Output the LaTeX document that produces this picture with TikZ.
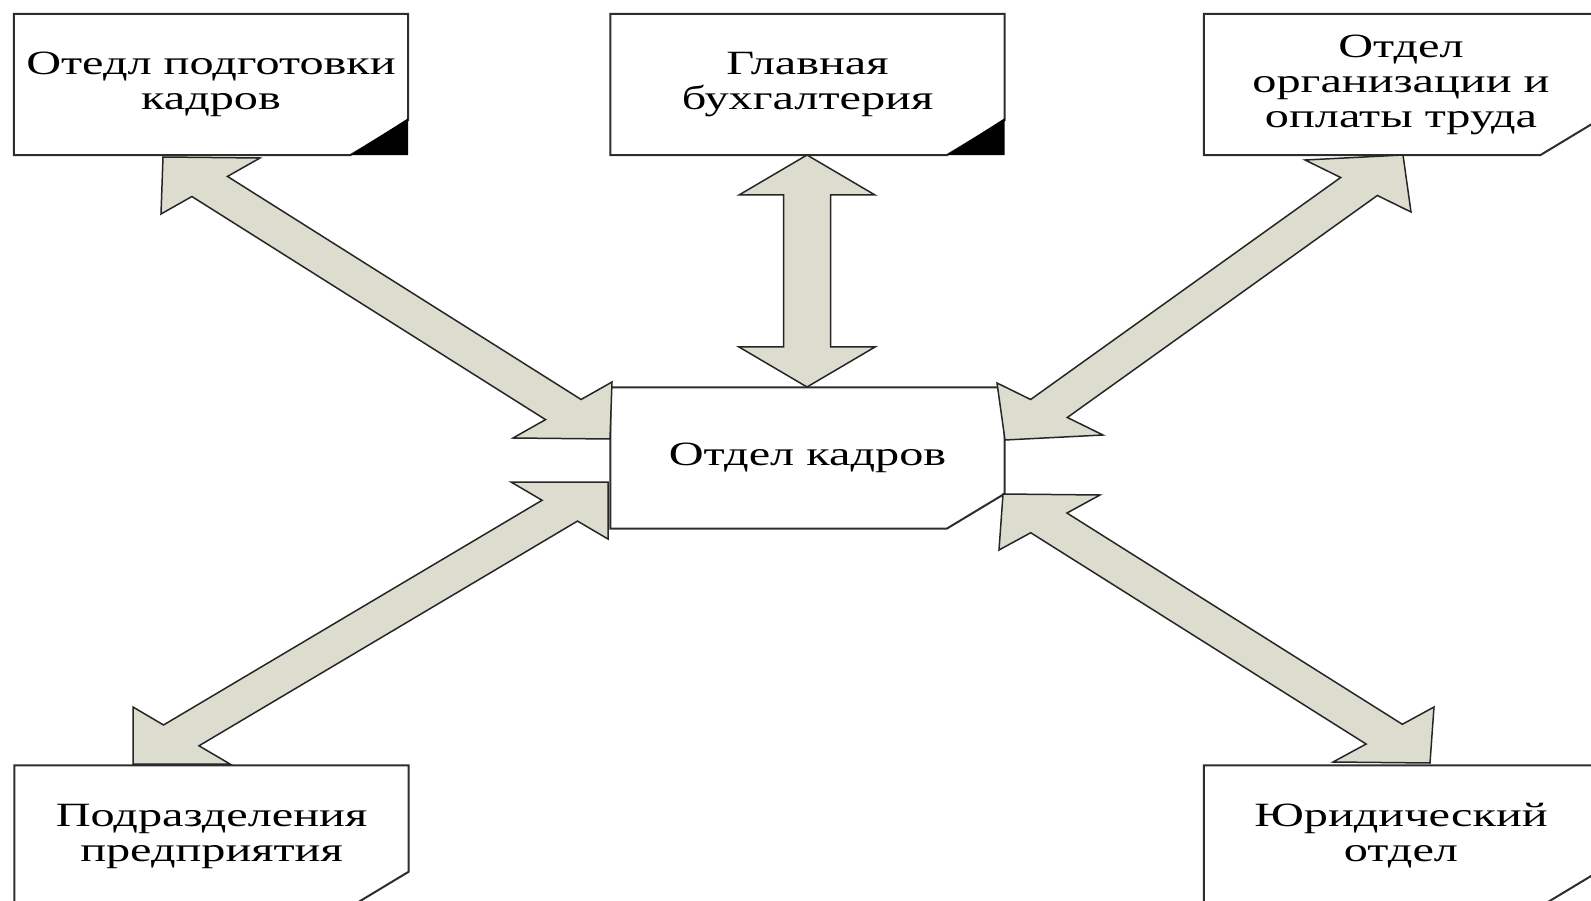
\documentclass[tikz,border=0pt]{standalone}
\usepackage{fontspec}
\newfontfamily\cardfont{Liberation Serif}[FakeStretch=1.42]
\usetikzlibrary{calc}

\definecolor{arrowgray}{RGB}{220,221,206}
\definecolor{cardline}{RGB}{45,45,45}

\tikzset{
  card/.style={minimum width=394pt, minimum height=141pt, inner sep=0pt, align=center,
    font=\cardfont\fontsize{34pt}{35pt}\selectfont},
  cardedge/.style={draw=cardline, line width=2pt, line join=miter},
  fatarrow/.style={fill=arrowgray, draw=black!85, line width=1.5pt, line join=miter},
}

% fat double arrow between two tips;
% #4 = barb of the first tip on the left side, #5 = its other barb
\newcommand{\fatlink}[5][18pt]{%
  \coordinate (#2b1) at ($(#2)+#4$);
  \coordinate (#2b2) at ($(#2)+#5$);
  \coordinate (#3b1) at ($(#3)-#4$);
  \coordinate (#3b2) at ($(#3)-#5$);
  \coordinate (#2l) at ($(#2)!#1!90:(#3)$);
  \coordinate (#3l) at ($(#3)!#1!-90:(#2)$);
  \coordinate (#2r) at ($(#2)!#1!-90:(#3)$);
  \coordinate (#3r) at ($(#3)!#1!90:(#2)$);
  \draw[fatarrow] (#2) -- (#2b1)
    -- (intersection of #2b1--#2b2 and #2l--#3l)
    -- (intersection of #3b1--#3b2 and #2l--#3l)
    -- (#3b2) -- (#3) -- (#3b1)
    -- (intersection of #3b1--#3b2 and #2r--#3r)
    -- (intersection of #2b1--#2b2 and #2r--#3r)
    -- (#2b2) -- cycle;
}

\begin{document}
\begin{tikzpicture}[x=1pt, y=-1pt]

  \useasboundingbox (0,0) rectangle (1591,901);
  \clip (0,0) rectangle (1591,901);

  \node[card] (k0) at (807.5,458) {Отдел кадров};

  \node[card] (k1) at (211,84.5) {Отедл подготовки\\кадров};
  \node[card] (k2) at (807.5,84.5) {Главная\\бухгалтерия};
  \node[card] (k3) at (1401,84.5) {Отдел\\организации и\\оплаты труда};

  \node[card] (k4) at (211.5,836) {Подразделения\\предприятия};
  \node[card] (k5) at (1401,836) {Юридический\\отдел};

  \foreach \n in {k0,k1,k2,k3,k4,k5}
    \draw[cardedge] (\n.north west) -- (\n.north east) -- ([yshift=35pt]\n.south east)
      -- ([xshift=-58pt]\n.south east) -- (\n.south west) -- cycle;

  \foreach \n in {k1,k2}
    \fill[black] ([xshift=-58pt]\n.south east) -- (\n.south east)
      -- ([yshift=37pt]\n.south east) -- cycle;

  \coordinate (a1) at (163,157);
  \coordinate (a2) at (610,439);

  \coordinate (b1) at (807,155);
  \coordinate (b2) at (807,387);

  \coordinate (c1) at (1005,440);
  \coordinate (c2) at (1403,155);

  \coordinate (d1) at (133,764);
  \coordinate (d2) at (608,482);

  \coordinate (e1) at (1003,494);
  \coordinate (e2) at (1430,763);

  \fatlink{a1}{a2}{(97,1)}{(-2,57)}
  \fatlink[23.5pt]{b1}{b2}{(68,40)}{(-68,40)}
  \fatlink{c1}{c2}{(-8,-57)}{(98,-5)}
  \fatlink{d1}{d2}{(0,-57)}{(97,0)}
  \fatlink{e1}{e2}{(97,1)}{(-4,56)}

\end{tikzpicture}
\end{document}
